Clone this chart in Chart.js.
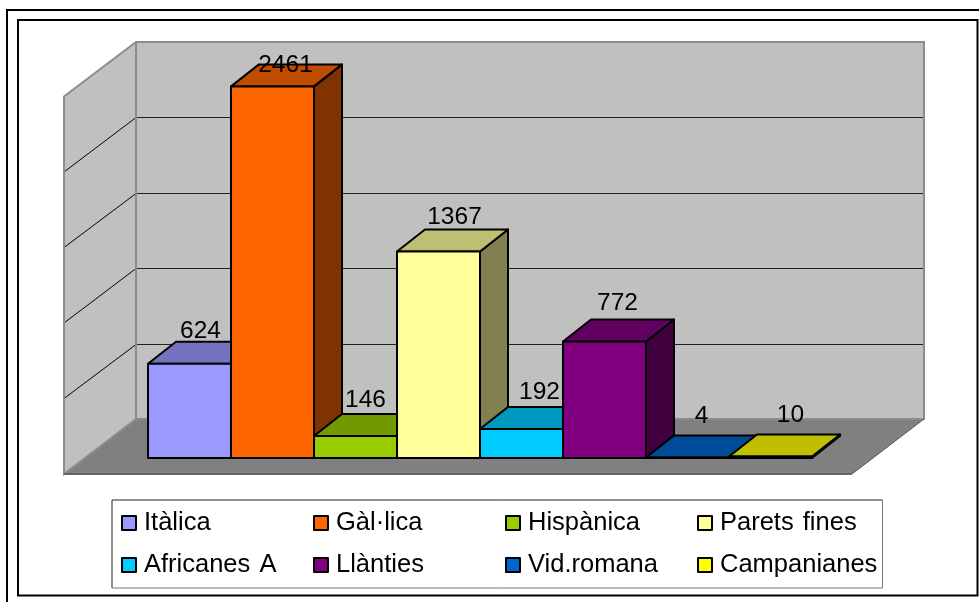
<!DOCTYPE html>
<html>
  <head>
    <meta charset="utf-8" />
    <title>Ceràmiques</title>
    <script src="https://cdn.jsdelivr.net/npm/chart.js"></script>
    <style>
      html, body { margin: 0; padding: 0; background: #fff; overflow: hidden; }
      canvas { display: block; }
    </style>
  </head>
  <body>
    <canvas id="barChart" width="979" height="602"></canvas>
    <script>
      const categories = ["Itàlica", "Gàl·lica", "Hispànica", "Parets fines", "Africanes A", "Llànties", "Vid.romana", "Campanianes"];
      const values = [624, 2461, 146, 1367, 192, 772, 4, 10];
      const gridTicks = [0, 500, 1000, 1500, 2000, 2500];

      const frontColors = ["#9999ff", "#ff6600", "#99cc00", "#ffff99", "#00ccff", "#800080", "#0066cc", "#ffff00"];
      const topColors = ["#7373bf", "#bf4c00", "#739900", "#bfbf73", "#0099bf", "#600060", "#004c99", "#bfbf00"];
      const sideColors = ["#7373bf", "#803300", "#4d6600", "#808050", "#006680", "#400040", "#003366", "#808000"];

      // how far each value label sits from the middle of its bar / top of its bar
      const labelNudgeX = [11, 13, 10, 16, 18, 13, 14, 20];
      const labelNudgeY = [-26, -14, -29, -28, -30, -31, -34, -34];

      const FONT = '"Liberation Sans", Arial, sans-serif';
      const DEPTH_X = 28, DEPTH_Y = 22; // bar depth
      const WALL_X = 72, WALL_Y = 55; // depth of the floor and side wall

      function poly(ctx, pts, fill, stroke, lw) {
        ctx.beginPath();
        pts.forEach((p, i) => (i ? ctx.lineTo(p[0], p[1]) : ctx.moveTo(p[0], p[1])));
        ctx.closePath();
        if (fill) {
          ctx.fillStyle = fill;
          ctx.fill();
        }
        if (stroke) {
          ctx.strokeStyle = stroke;
          ctx.lineWidth = lw;
          ctx.stroke();
        }
      }

      function line(ctx, x1, y1, x2, y2, color, lw) {
        ctx.beginPath();
        ctx.moveTo(x1, y1);
        ctx.lineTo(x2, y2);
        ctx.strokeStyle = color;
        ctx.lineWidth = lw;
        ctx.stroke();
      }

      const frame3d = {
        id: "frame3d",
        beforeDatasetsDraw(chart) {
          const ctx = chart.ctx;
          const y = chart.scales.y;
          const area = chart.chartArea;
          const base = y.getPixelForValue(0);
          const frontL = area.left - 84, frontR = area.right + 40;
          const frontB = base + 16;
          const top = y.getPixelForValue(2500);
          ctx.save();

          // page frames
          ctx.strokeStyle = "#000";
          ctx.lineWidth = 2;
          ctx.strokeRect(7, 10, 1000, 1000);
          ctx.strokeRect(18, 20, 959.5, 575.5);

          // walls and floor
          const backL = frontL + WALL_X, backR = frontR + WALL_X, backB = frontB - WALL_Y;
          const backT = top - 38.5;
          poly(ctx, [[backL, backT], [backR, backT], [backR, backB], [backL, backB]], "#c0c0c0");
          poly(ctx, [[frontL, top + 16], [backL, backT], [backL, backB], [frontL, frontB]], "#c0c0c0");
          poly(ctx, [[frontL, frontB], [backL, backB], [backR, backB], [frontR, frontB]], "#808080");

          gridTicks.slice(1, -1).forEach((v) => {
            const p = y.getPixelForValue(v);
            const backY = Math.round(p - 39) + 0.5;
            line(ctx, frontL, p + 16, backL, backY, "#000", 1);
            line(ctx, backL, backY, backR, backY, "#222", 1);
          });

          poly(ctx, [[frontL, top + 16], [backL, backT], [backR, backT], [backR, backB], [backL, backB], [backL, backT], [backL, backB], [frontL, frontB]], null, "#8c8c8c", 2);
          line(ctx, frontL, frontB, frontR, frontB, "#666", 2);
          line(ctx, frontR, frontB, backR, backB, "#555", 1);
          ctx.restore();
        },
        afterDatasetsDraw(chart) {
          const ctx = chart.ctx;
          const bars = chart.getDatasetMeta(0).data;
          ctx.save();
          ctx.lineJoin = "round";
          bars.forEach((bar, i) => {
            const l = bar.x - bar.width / 2, r = bar.x + bar.width / 2;
            const t = bar.y, b = bar.base;
            const dx = DEPTH_X, dy = DEPTH_Y;
            poly(ctx, [[r, b], [r + dx, b - dy], [r + dx, t - dy], [r, t]], sideColors[i], "#000", 2);
            poly(ctx, [[l, t], [l + dx, t - dy], [r + dx, t - dy], [r, t]], topColors[i], "#000", 2);
            poly(ctx, [[l, t], [r, t], [r, b], [l, b]], frontColors[i], "#000", 2);
          });

          // value labels
          ctx.fillStyle = "#000";
          ctx.font = "24.5px " + FONT;
          ctx.textAlign = "center";
          ctx.textBaseline = "alphabetic";
          bars.forEach((bar, i) => {
            ctx.fillText(values[i], bar.x + labelNudgeX[i], bar.y + labelNudgeY[i]);
          });

          // legend box
          const boxL = 112, boxT = 500, boxR = 882.5, boxB = 588;
          ctx.fillStyle = "#fff";
          ctx.fillRect(boxL, boxT, boxR - boxL, boxB - boxT);
          line(ctx, boxL, boxT, boxR, boxT, "#222", 1);
          line(ctx, boxL, boxT, boxL, boxB, "#222", 1);
          line(ctx, boxR, boxT, boxR, boxB, "#777", 1);
          line(ctx, boxL, boxB, boxR, boxB, "#777", 1);

          const colX = [122, 314, 506, 698];
          const rowY = [516, 558];
          ctx.textAlign = "left";
          ctx.font = "25.5px " + FONT;
          ctx.wordSpacing = "2px";
          categories.forEach((name, i) => {
            const x = colX[i % 4], y = rowY[Math.floor(i / 4)];
            ctx.fillStyle = frontColors[i];
            ctx.fillRect(x, y, 14, 14);
            ctx.strokeStyle = "#000";
            ctx.lineWidth = 2;
            ctx.strokeRect(x, y, 14, 14);
            ctx.fillStyle = "#000";
            ctx.fillText(name, x + 22, y + 14);
          });
          ctx.restore();
        },
      };

      new Chart(document.getElementById("barChart").getContext("2d"), {
        type: "bar",
        plugins: [frame3d],
        data: {
          labels: categories,
          datasets: [
            {
              data: values,
              backgroundColor: frontColors,
              borderWidth: 0,
              barPercentage: 1,
              categoryPercentage: 1,
            },
          ],
        },
        options: {
          responsive: false,
          animation: false,
          layout: { padding: { left: 148, right: 167, top: 80.5, bottom: 144 } },
          plugins: { legend: { display: false }, tooltip: { enabled: false } },
          scales: {
            x: { display: false },
            y: { display: false, min: 0, max: 2500 },
          },
        },
      });
    </script>
  </body>
</html>
